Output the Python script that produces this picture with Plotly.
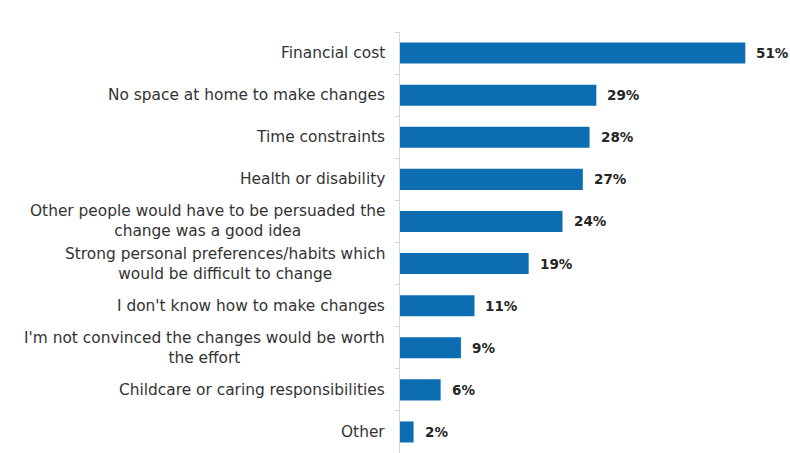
import plotly.graph_objects as go

# Barriers to making changes at home (share of respondents, %)
categories = [
    "Financial cost",
    "No space at home to make changes",
    "Time constraints",
    "Health or disability",
    "Other people would have to be persuaded the<br>change was a good idea",
    "Strong personal preferences/habits which<br>would be difficult to change",
    "I don't know how to make changes",
    "I'm not convinced the changes would be worth<br>the effort",
    "Childcare or caring responsibilities",
    "Other",
]
values = [51, 29, 28, 27, 24, 19, 11, 9, 6, 2]
value_labels = [f"{v}%" for v in values]

BAR_COLOR = "#0c6db2"
TEXT_COLOR = "#333333"
FONT = "DejaVu Sans"

fig = go.Figure(
    go.Bar(
        x=values,
        y=categories,
        orientation="h",
        marker=dict(color=BAR_COLOR, line=dict(width=0)),
        hoverinfo="skip",
    )
)

annotations = []
# Category labels, right-aligned to the axis, wrapped lines centred
for cat in categories:
    annotations.append(dict(
        x=0, xref="paper", y=cat, yref="y",
        text=cat, showarrow=False,
        xanchor="right", yanchor="middle", align="center",
        xshift=-13,
        font=dict(family=FONT, size=15.4, color=TEXT_COLOR),
    ))
# Value labels at the end of each bar
for cat, v, lab in zip(categories, values, value_labels):
    annotations.append(dict(
        x=v, xref="x", y=cat, yref="y",
        text=f"<b>{lab}</b>", showarrow=False,
        xanchor="left", yanchor="middle",
        xshift=9,
        font=dict(family=FONT, size=13.5, color="#262626"),
    ))

fig.update_layout(
    width=790, height=453,
    margin=dict(l=400, r=0, t=32, b=0),
    paper_bgcolor="white", plot_bgcolor="white",
    bargap=0.5,
    showlegend=False,
    annotations=annotations,
    xaxis=dict(range=[0, 57.6], visible=False, fixedrange=True),
    yaxis=dict(
        autorange="reversed",
        showticklabels=False,
        showline=True, linecolor="#d4d4d4", linewidth=1,
        ticks="outside", tickson="boundaries", ticklen=4, tickcolor="#d4d4d4",
        showgrid=False, zeroline=False,
    ),
)

fig.write_html("out.html")
